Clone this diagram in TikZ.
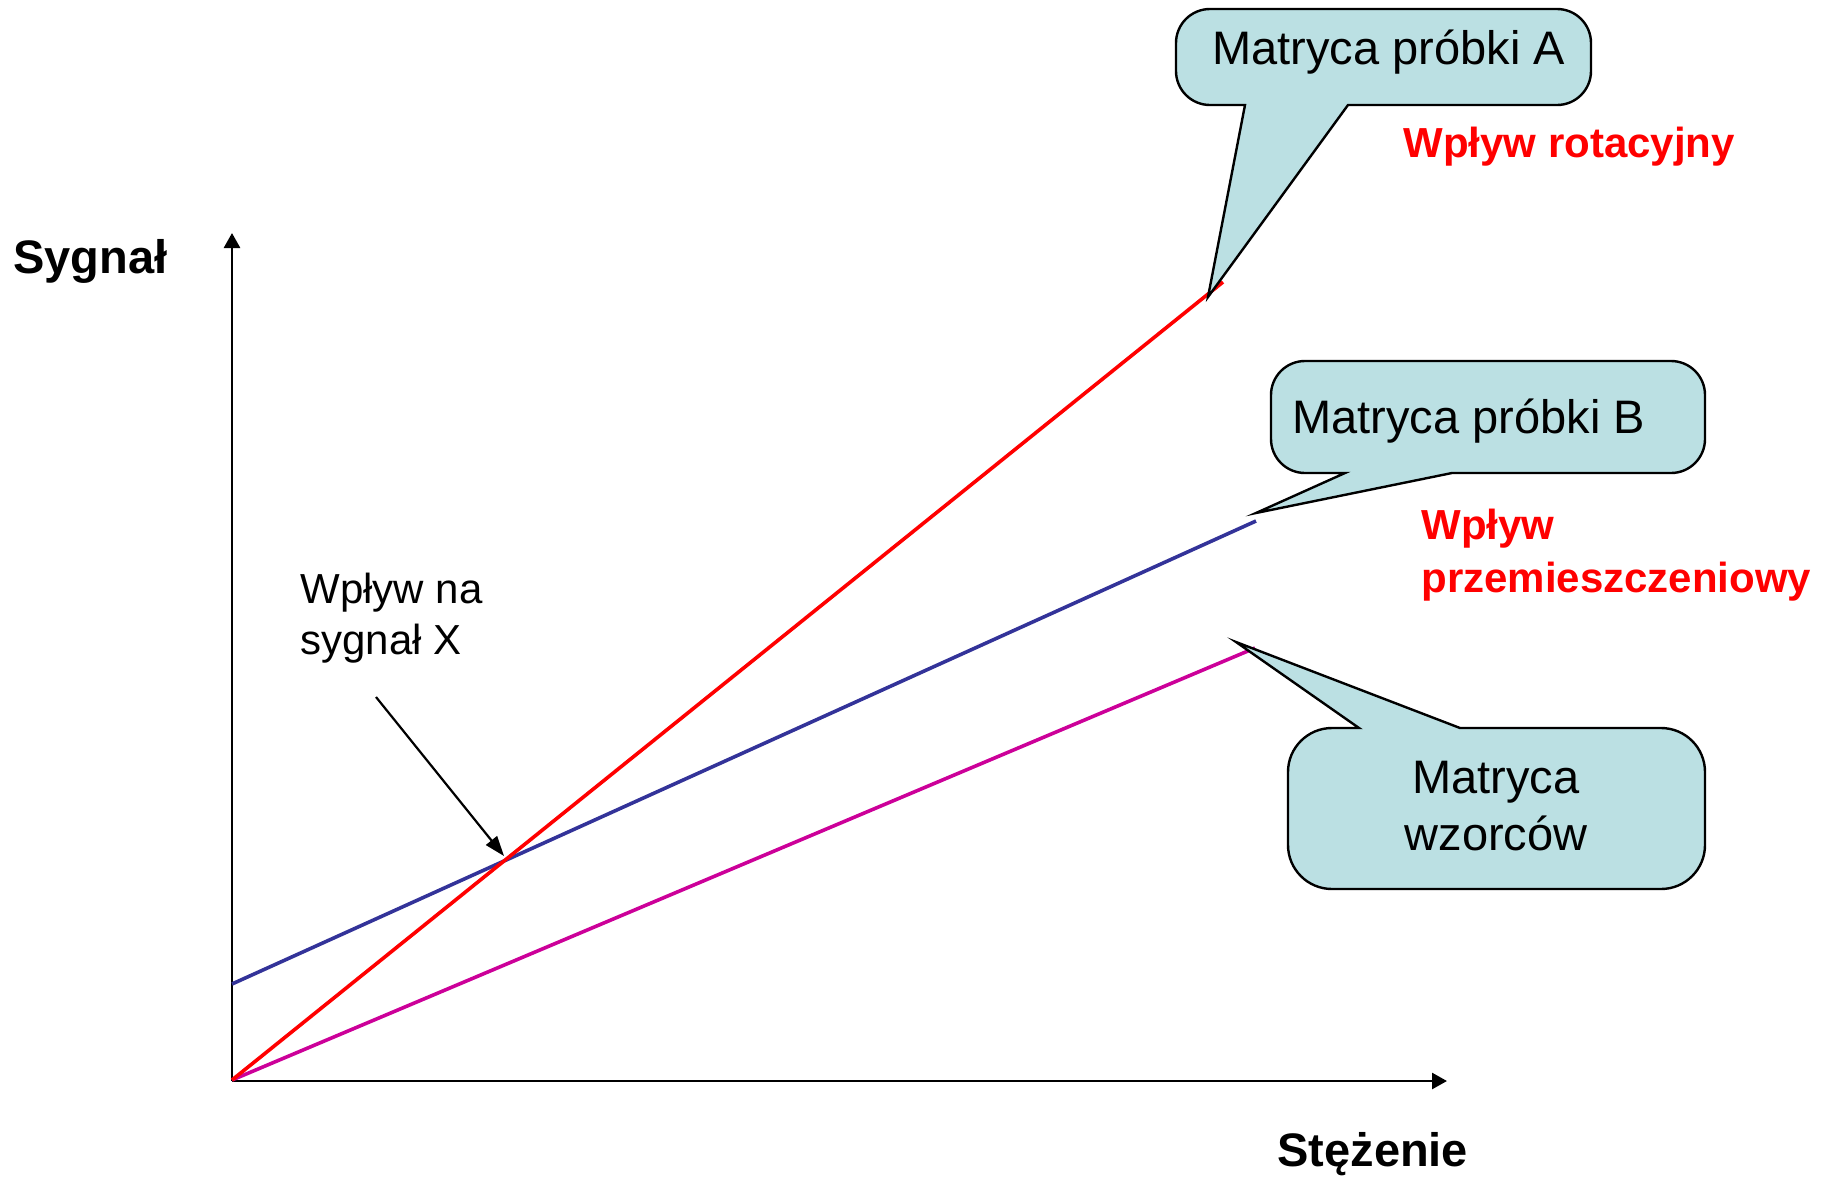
\documentclass[tikz,border=0pt]{standalone}
\usepackage{fontspec}
\setmainfont{Liberation Sans}
\usetikzlibrary{arrows.meta}
\definecolor{callfill}{RGB}{187,224,227}
\definecolor{lineblue}{RGB}{51,51,153}
\definecolor{linemag}{RGB}{204,0,153}
\definecolor{linered}{RGB}{255,0,0}
\begin{document}
\begin{tikzpicture}[x=0.5pt,y=-0.5pt,
  axisline/.style={line width=1.35pt,-{Triangle[length=7.5pt,width=8pt]}},
  notearrow/.style={line width=1.1pt,-{Triangle[length=10pt,width=7pt]}},
  dataline/.style={line width=1.8pt},
  callout/.style={fill=callfill,draw=black,line width=1.2pt,line join=miter},
  ctext/.style={inner sep=0pt,font={\fontsize{23.5pt}{28pt}\selectfont}},
  redlabel/.style={inner sep=0pt,anchor=base west,text=linered,font={\bfseries\fontsize{21pt}{25pt}\selectfont}},
  notetext/.style={inner sep=0pt,anchor=base west,font={\fontsize{21pt}{25pt}\selectfont}},
  axislabel/.style={inner sep=0pt,anchor=base west,font={\bfseries\fontsize{23.5pt}{28pt}\selectfont}}
]
\useasboundingbox (0,0) rectangle (1822,1179);

% axes
\coordinate (O) at (232,1081);
\coordinate (ytop) at (232,233);
\coordinate (xend) at (1447,1081);
\draw[axisline] (O) -- (ytop);
\draw[axisline] (O) -- (xend);

% data lines
\coordinate (redstart) at (232,1080);
\coordinate (redend) at (1223,282);
\coordinate (bluestart) at (232,984);
\coordinate (blueend) at (1256,521);
\coordinate (magend) at (1255,648);
\draw[dataline,draw=linemag] (redstart) -- (magend);
\draw[dataline,draw=lineblue] (bluestart) -- (blueend);
\draw[dataline,draw=linered] (redstart) -- (redend);

% callout A
\draw[callout] (1400,9) [rounded corners=17] -- (1176,9) -- (1176,105)
  [sharp corners] -- (1245,105) -- (1208,297) -- (1348,105)
  [rounded corners=17] -- (1591,105) -- (1591,9) -- (1400,9);
\node[ctext,anchor=base west] (calloutA) at (1212,64) {Matryca próbki A};

% callout B
\draw[callout] (1500,361) [rounded corners=17] -- (1271,361) -- (1271,473)
  [sharp corners] -- (1345,473) -- (1256,513) -- (1452,473)
  [rounded corners=17] -- (1705,473) -- (1705,361) -- (1500,361);
\node[ctext,anchor=base west] (calloutB) at (1292,433) {Matryca próbki B};

% callout C
\draw[callout] (1500,889) [rounded corners=22] -- (1288,889) -- (1288,728)
  [sharp corners] -- (1359,728) -- (1236,642) -- (1460,728)
  [rounded corners=22] -- (1705,728) -- (1705,889) -- (1500,889);
\node[ctext,anchor=base] (calloutC1) at (1496,793) {Matryca};
\node[ctext,anchor=base] (calloutC2) at (1496,850) {wzorców};

% red labels
\node[redlabel] (rot) at (1403,157) {Wpływ rotacyjny};
\node[redlabel] (prz1) at (1421,539) {Wpływ};
\node[redlabel] (prz2) at (1421,592) {przemieszczeniowy};

% note
\node[notetext] (note1) at (300,603) {Wpływ na};
\node[notetext] (note2) at (300,654) {sygnał X};
\coordinate (notefrom) at (376,697);
\coordinate (noteto) at (504,856);
\draw[notearrow] (notefrom) -- (noteto);

% axis labels
\node[axislabel] (ylabel) at (13,273) {Sygnał};
\node[axislabel] (xlabel) at (1277,1166) {Stężenie};
\end{tikzpicture}
\end{document}
